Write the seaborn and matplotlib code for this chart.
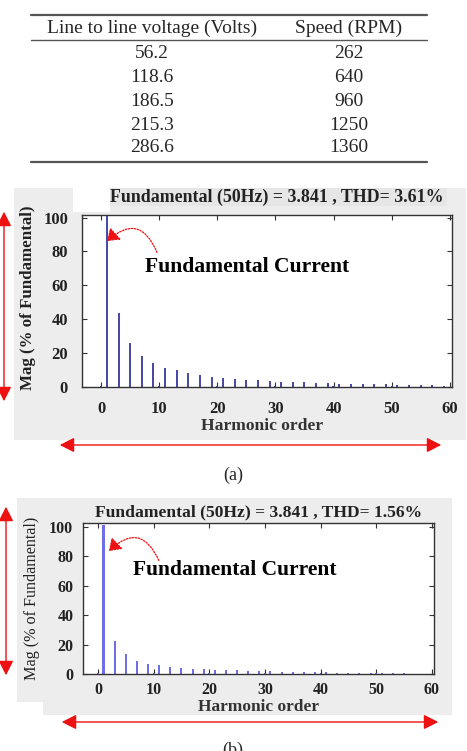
import numpy as np
import pandas as pd
import matplotlib
matplotlib.use("Agg")
import matplotlib.pyplot as plt
import seaborn as sns
from matplotlib.patches import Rectangle, FancyArrowPatch
from matplotlib.lines import Line2D

# ---------------- data ----------------
table_voltage = ["56.2", "118.6", "186.5", "215.3", "286.6"]
table_speed = ["262", "640", "960", "1250", "1360"]
table_headers = ["Line to line voltage (Volts)", "Speed (RPM)"]

fund_order = [1]
fund_mag = [101.5]

orders_a = [0, 3, 5, 7, 9, 10, 11, 13, 15, 17, 19, 20, 21, 23, 25, 27, 29, 30, 31, 33, 35,
            37, 39, 40, 41, 43, 45, 47, 49, 50, 51, 53, 55, 57, 59]
mags_a = [0.6, 43.5, 25.8, 18.0, 14.2, 0.8, 11.3, 9.8, 8.0, 7.0, 6.0, 0.8, 5.4, 5.0, 4.4, 4.0, 3.8, 0.8, 3.2, 3.1, 3.0,
          2.6, 2.5, 0.6, 2.0, 1.9, 1.8, 1.5, 1.6, 0.6, 1.4, 1.1, 1.1, 1.0, 0.6]

orders_b = [0, 3, 5, 7, 9, 10, 11, 13, 15, 17, 19, 20, 21, 23, 25, 27, 29, 30, 31, 33, 35,
            37, 39, 40, 41, 43, 45, 47, 49, 50, 51, 53, 55, 57, 59]
mags_b = [0.6, 22.5, 13.5, 9.0, 6.9, 0.6, 6.1, 5.0, 4.3, 3.5, 3.2, 0.6, 2.8, 2.6, 2.4, 2.2, 2.0, 0.5, 1.8, 1.7, 1.5,
          1.3, 1.2, 0.4, 1.1, 1.0, 0.9, 0.8, 0.7, 0.4, 0.6, 0.5, 0.4, 0.3, 0.2]

title_a = "Fundamental (50Hz) = 3.841 , THD= 3.61%"
title_b = "Fundamental (50Hz) = 3.841 , THD= 1.56%"
xticks = [0, 10, 20, 30, 40, 50, 60]
yticks = [0, 20, 40, 60, 80, 100]

# ---------------- style ----------------
sns.set_style("ticks")
plt.rcParams["font.family"] = ["Liberation Serif", "DejaVu Serif"]

W, H = 467, 751
fig = plt.figure(figsize=(W / 100, H / 100), dpi=100)


def P(x, y):
    return (x / W, 1 - y / H)


def rect(x0, y0, x1, y1, color):
    fig.patches.append(Rectangle(P(x0, y1), (x1 - x0) / W, (y1 - y0) / H,
                                 transform=fig.transFigure, color=color, zorder=-10, lw=0))


def hline(x0, x1, y, lw, color="#555555"):
    fig.lines.append(Line2D([x0 / W, x1 / W], [1 - y / H, 1 - y / H],
                            transform=fig.transFigure, lw=lw, color=color))


# ---------------- table ----------------
TFS = 14
hline(31, 427, 15, 1.6)
hline(31, 427, 40, 1.0)
hline(31, 427, 162, 1.6)
fig.text(*P(152, 28), table_headers[0], ha="center", va="center", fontsize=TFS)
fig.text(*P(349, 28), table_headers[1], ha="center", va="center", fontsize=TFS)
row_y = [53, 77, 101, 125, 148]
for v, s, yy in zip(table_voltage, table_speed, row_y):
    fig.text(*P(152, yy), v, ha="center", va="center", fontsize=TFS)
    fig.text(*P(349, yy), s, ha="center", va="center", fontsize=TFS)

# ---------------- chart helper ----------------
RED = "#ee1111"


def dbl_arrow(p0, p1):
    a = FancyArrowPatch(P(*p0), P(*p1), transform=fig.transFigure,
                        arrowstyle="<|-|>,head_length=0.55,head_width=0.28",
                        mutation_scale=16, color=RED, lw=1.0, zorder=5)
    fig.patches.append(a)


def curved_arrow(start, end, rad):
    a = FancyArrowPatch(P(*start), P(*end), transform=fig.transFigure,
                        connectionstyle=f"arc3,rad={rad}",
                        arrowstyle="-|>,head_length=0.5,head_width=0.35",
                        mutation_scale=14, color=RED, lw=0.9, linestyle=(0, (1.2, 1.2)), zorder=5)
    fig.patches.append(a)


def spectrum(box, xlim, ylim, orders, mags, color, fund_w, harm_w, xpad, ypad, tfs):
    x0, y0, x1, y1 = box
    ax = fig.add_axes([x0 / W, 1 - y1 / H, (x1 - x0) / W, (y1 - y0) / H])
    ax.set_facecolor("white")
    df = pd.DataFrame({"order": orders, "mag": mags})
    sns.barplot(data=df, x="order", y="mag", native_scale=True, width=harm_w,
                color=color, saturation=1, errorbar=None, linewidth=0, ax=ax)
    dff = pd.DataFrame({"order": fund_order, "mag": fund_mag})
    sns.barplot(data=dff, x="order", y="mag", native_scale=True, width=fund_w,
                color=color, saturation=1, errorbar=None, linewidth=0, ax=ax)
    ax.set_xlim(*xlim)
    ax.set_ylim(*ylim)
    ax.set_xticks(xticks)
    ax.set_yticks(yticks)
    ax.set_xticklabels([str(t) for t in xticks], fontweight="bold", fontsize=tfs, color="#222222")
    ax.set_yticklabels([str(t) for t in yticks], fontweight="bold", fontsize=tfs, color="#222222")
    ax.tick_params(axis="x", direction="in", length=3.5, width=0.8, top=True, pad=xpad, color="#333333")
    ax.tick_params(axis="y", direction="in", length=3.5, width=0.8, right=True, pad=ypad, color="#333333")
    ax.set_xlabel("")
    ax.set_ylabel("")
    for s in ax.spines.values():
        s.set_visible(True)
        s.set_color("#333333")
        s.set_linewidth(1.0)
    return ax


# ---------------- chart (a) ----------------
rect(14, 188, 466, 440, "#ededed")
rect(73, 188, 110, 212, "white")
rect(110, 188, 447, 206, "#e6e6e6")
spectrum((82, 215, 452, 387), (-3.3, 60.4), (0, 101.5), orders_a, mags_a,
         "#4a4aaa", 0.4, 0.35, 10, 10, 12)
fig.text(*P(277, 197), title_a, ha="center", va="center", fontsize=12.9, fontweight="bold", color="#222222")
fig.text(*P(28, 298), "Mag (% of Fundamental)", ha="center", va="center", rotation=90,
         fontsize=12.2, fontweight="bold", color="#222222")
fig.text(*P(262, 426), "Harmonic order", ha="center", va="center", fontsize=12.6,
         fontweight="bold", color="#333333")
fig.text(*P(145, 267), "Fundamental Current", ha="left", va="center", fontsize=15.6,
         fontweight="bold", color="black")
curved_arrow((158, 255), (105, 243), 0.75)
dbl_arrow((4, 209), (4, 404))
dbl_arrow((57, 445), (444, 445))
fig.text(*P(233, 475), "(a)", ha="center", va="center", fontsize=13)

# ---------------- chart (b) ----------------
rect(17, 498, 44, 702, "#ededed")
rect(43, 498, 452, 715, "#ededed")
spectrum((83, 523, 434, 674), (-2.7, 60.4), (0, 102.7), orders_b, mags_b,
         "#6e6ee8", 0.45, 0.35, 6, 7, 11.5)
fig.text(*P(259, 512), title_b, ha="center", va="center", fontsize=12.6, fontweight="bold", color="#222222")
fig.text(*P(32, 598), "Mag (% of Fundamental)", ha="center", va="center", rotation=90,
         fontsize=11.6, color="#222222")
fig.text(*P(258, 707), "Harmonic order", ha="center", va="center", fontsize=12.5,
         fontweight="bold", color="#333333")
fig.text(*P(133, 570), "Fundamental Current", ha="left", va="center", fontsize=15.5,
         fontweight="bold", color="black")
curved_arrow((160, 563), (107, 553), 0.75)
dbl_arrow((6, 504), (6, 678))
dbl_arrow((59, 722), (441, 722))
fig.text(*P(233, 742), "(b)", ha="center", va="top", fontsize=13)

fig.savefig("out.png", dpi=100)
